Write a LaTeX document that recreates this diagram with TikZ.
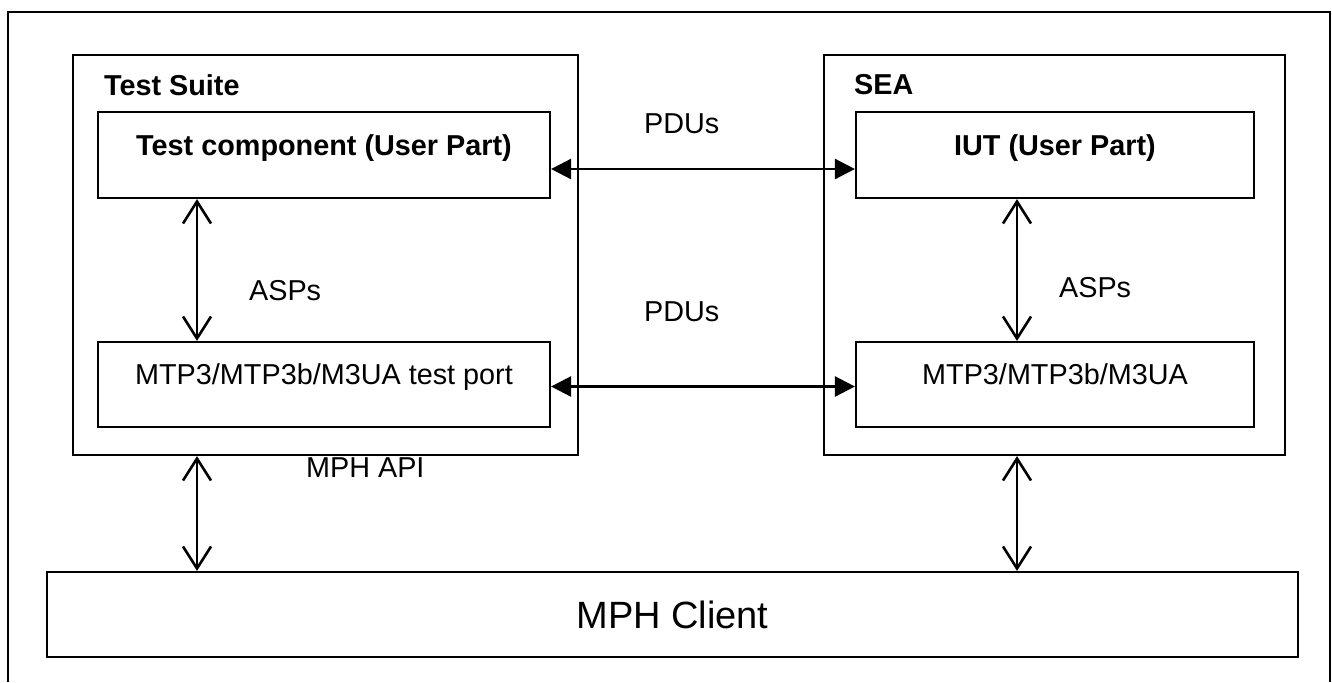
\documentclass[tikz,border=0pt]{standalone}
\usepackage{fontspec}
\setmainfont{Liberation Sans}
\usetikzlibrary{arrows.meta}
\begin{document}
\begin{tikzpicture}[x=0.5pt,y=-0.5pt, line width=1.1pt,
  box/.style={draw, line width=1.1pt, inner sep=0pt, text height=7pt, text depth=7pt, font=\fontsize{14.4}{16}\selectfont},
  frame/.style={draw, line width=1.1pt, inner sep=0pt},
  lbl/.style={anchor=base west, inner sep=0pt, font=\fontsize{14.4}{16}\selectfont},
  pdu/.style={line width=1.3pt, {Triangle[length=10pt,width=10pt]}-{Triangle[length=10pt,width=10pt]}},
  asp/.style={line width=1.3pt, {Straight Barb[length=11pt,width=14pt]}-{Straight Barb[length=11pt,width=14pt]}}]
\useasboundingbox (0,0) rectangle (1332,682);
% outer frame (open at the bottom)
\draw (8,682) -- (8,12) -- (1330,12) -- (1330,682);
% containers
\node[frame, minimum width=252.5pt, minimum height=200pt] (ts) at (325.5,255) {};
\node[frame, minimum width=230.5pt, minimum height=200pt] (sea) at (1054.5,255) {};
\node[lbl, font=\fontsize{14.4}{16}\selectfont\bfseries] (tstitle) at (103,95) {Test Suite};
\node[lbl, font=\fontsize{14.4}{16}\selectfont\bfseries] (seatitle) at (853,94) {SEA};
% inner boxes
\node[box, minimum width=226pt, minimum height=43pt] (tc) at (324,155) {\bfseries Test component (User Part)};
\node[box, minimum width=226pt, minimum height=42.5pt] (tp) at (324,384.5) {MTP3/MTP3b/M3UA test port};
\node[box, minimum width=199pt, minimum height=43pt] (iut) at (1055,155) {\bfseries IUT (User Part)};
\node[box, minimum width=199pt, minimum height=42.5pt] (sm) at (1055,384.5) {MTP3/MTP3b/M3UA};
\node[draw, line width=1.1pt, inner sep=0pt, minimum width=625.5pt, minimum height=42.5pt, font=\fontsize{19}{22}\selectfont] (mph) at (672.5,614.5) {MPH Client};
% labels
\node[lbl] (pdu1) at (643,133) {PDUs};
\node[lbl] (pdu2) at (643,321) {PDUs};
\node[lbl] (asp1) at (248,300) {ASPs};
\node[lbl] (asp2) at (1058,297) {ASPs};
\node[lbl] (api) at (305,477) {MPH API};
% connectors
\coordinate (lx) at (197,0);
\coordinate (rx) at (1017,0);
\draw[pdu] ([yshift=-7pt]tc.east) -- ([yshift=-7pt]iut.west);
\draw[pdu] ([yshift=-1pt]tp.east) -- ([yshift=-1pt]sm.west);
\draw[asp] (tc.south -| lx) -- (tp.north -| lx);
\draw[asp] (ts.south -| lx) -- (mph.north -| lx);
\draw[asp] (iut.south -| rx) -- (sm.north -| rx);
\draw[asp] (sea.south -| rx) -- (mph.north -| rx);
\end{tikzpicture}
\end{document}
